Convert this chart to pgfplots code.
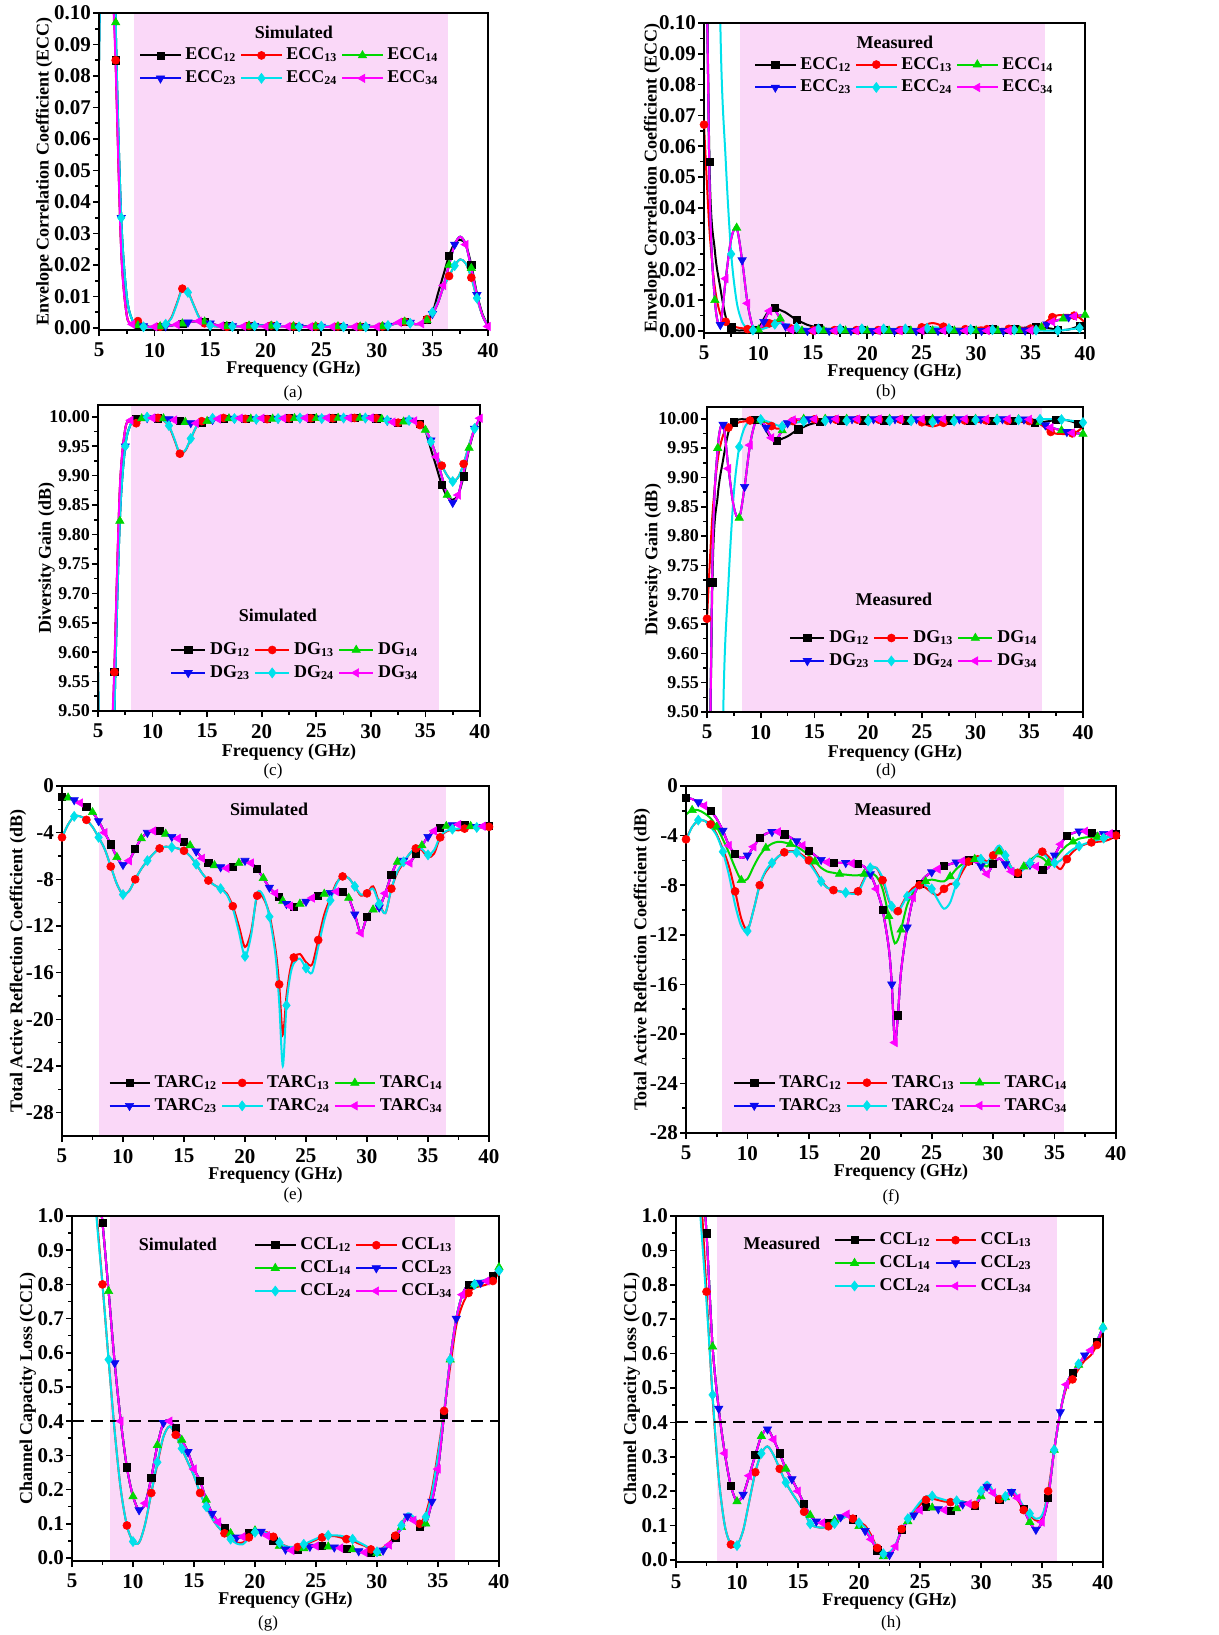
\documentclass[border=0pt]{standalone}
\usepackage{fontspec}
\setmainfont{Liberation Serif}
\usepackage{pgfplots}
\usepackage{pgfplotstable}
\pgfplotsset{compat=1.18}

\definecolor{cgreen}{RGB}{0,215,0}
\definecolor{ccyan}{RGB}{0,225,235}
\definecolor{cblue}{RGB}{10,10,240}
\definecolor{cmag}{RGB}{255,0,255}
\definecolor{bandpink}{RGB}{250,216,248}

% ECC, simulated
\pgfplotstableread{
x a12 a13 a14 a24 a34
5.0 0.30 0.30 0.085 0.085 0.30
5.5 0.30 0.30 0.20 0.20 0.30
6.0 0.15 0.15 0.21 0.21 0.14
6.5 0.085 0.085 0.097 0.097 0.083
7.0 0.025 0.025 0.035 0.035 0.024
7.5 0.004 0.004 0.010 0.010 0.004
8.0 0.0012 0.0016 0.0025 0.0025 0.0012
8.5 0.0008 0.0022 0.0008 0.0010 0.0008
9.0 0.0006 0.0009 0.0006 0.0004 0.0006
9.5 0.0004 0.0003 0.0004 0.0001 0.0004
10.0 0.0004 0.0002 0.0004 0.0001 0.0004
10.5 0.0005 0.0004 0.0005 0.0004 0.0005
11.0 0.0006 0.0012 0.0006 0.0012 0.0006
11.5 0.0008 0.0032 0.0008 0.0030 0.0008
12.0 0.0011 0.0078 0.0011 0.0075 0.0011
12.5 0.0014 0.0125 0.0014 0.0124 0.0014
13.0 0.0018 0.0115 0.0018 0.0113 0.0018
13.5 0.0021 0.0075 0.0021 0.0074 0.0021
14.0 0.0022 0.0035 0.0022 0.0034 0.0022
14.5 0.0020 0.0015 0.0020 0.0015 0.0020
15.0 0.0015 0.0008 0.0015 0.0008 0.0015
15.5 0.0010 0.0005 0.0010 0.0005 0.0010
16.0 0.0007 0.0004 0.0007 0.0004 0.0007
16.5 0.0006 0.0004 0.0006 0.0004 0.0006
17.0 0.0006 0.0005 0.0006 0.0005 0.0005
17.5 0.0006 0.0006 0.0006 0.0006 0.0005
18.0 0.0006 0.0006 0.0007 0.0006 0.0005
18.5 0.0006 0.0007 0.0007 0.0007 0.0005
19.0 0.0006 0.0007 0.0007 0.0007 0.0005
19.5 0.0006 0.0008 0.0008 0.0008 0.0005
20.0 0.0006 0.0008 0.0008 0.0008 0.0005
20.5 0.0006 0.0008 0.0007 0.0008 0.0005
21.0 0.0006 0.0007 0.0007 0.0007 0.0005
21.5 0.0006 0.0006 0.0006 0.0006 0.0005
22.0 0.0005 0.0005 0.0006 0.0005 0.0005
22.5 0.0005 0.0005 0.0005 0.0005 0.0005
23.0 0.0005 0.0004 0.0005 0.0004 0.0004
23.5 0.0005 0.0004 0.0005 0.0004 0.0004
24.0 0.0005 0.0004 0.0005 0.0004 0.0004
24.5 0.0005 0.0005 0.0005 0.0005 0.0004
25.0 0.0005 0.0006 0.0005 0.0006 0.0004
25.5 0.0005 0.0006 0.0005 0.0006 0.0004
26.0 0.0005 0.0006 0.0005 0.0005 0.0004
26.5 0.0005 0.0005 0.0005 0.0005 0.0004
27.0 0.0004 0.0004 0.0004 0.0004 0.0004
27.5 0.0004 0.0004 0.0004 0.0004 0.0004
28.0 0.0004 0.0004 0.0004 0.0004 0.0004
28.5 0.0004 0.0004 0.0004 0.0004 0.0004
29.0 0.0004 0.0004 0.0004 0.0004 0.0004
29.5 0.0004 0.0004 0.0004 0.0004 0.0004
30.0 0.0004 0.0004 0.0004 0.0004 0.0004
30.5 0.0005 0.0005 0.0005 0.0005 0.0005
31.0 0.0008 0.0008 0.0008 0.0008 0.0008
31.5 0.0013 0.0012 0.0013 0.0012 0.0013
32.0 0.0018 0.0018 0.0018 0.0018 0.0018
32.5 0.0020 0.0020 0.0020 0.0020 0.0020
33.0 0.0017 0.0015 0.0017 0.0015 0.0017
33.5 0.0012 0.0012 0.0012 0.0012 0.0012
34.0 0.0014 0.0016 0.0014 0.0016 0.0014
34.5 0.0025 0.0028 0.0025 0.0028 0.0025
35.0 0.0048 0.0050 0.0045 0.0050 0.0045
35.5 0.0110 0.0085 0.0080 0.0085 0.0080
36.0 0.0170 0.0130 0.0135 0.0130 0.0135
36.5 0.0230 0.0165 0.0200 0.0165 0.0200
37.0 0.0270 0.0198 0.0265 0.0198 0.0265
37.5 0.0280 0.0218 0.0290 0.0218 0.0290
38.0 0.0265 0.0205 0.0265 0.0205 0.0265
38.5 0.0200 0.0160 0.0190 0.0160 0.0190
39.0 0.0110 0.0095 0.0105 0.0095 0.0105
39.5 0.0045 0.0040 0.0040 0.0040 0.0040
40.0 0.0008 0.0010 0.0005 0.0010 0.0005
}\tabA

% ECC, measured (bK: ports 14, 23, 34)
\pgfplotstableread{
x b12 b13 bK b24
5.0 0.20 0.067 0.20 0.40
5.5 0.055 0.033 0.050 0.40
6.0 0.026 0.014 0.010 0.25
6.5 0.014 0.0055 0.002 0.10
7.0 0.0045 0.003 0.017 0.055
7.5 0.0012 0.002 0.030 0.025
8.0 0.0002 0.0012 0.0335 0.0095
8.5 0.0002 0.0009 0.023 0.003
9.0 0.0002 0.0006 0.009 0.0008
9.5 0.0003 0.0003 0.0012 0.0003
10.0 0.0008 0.0004 0.0004 0.0003
10.5 0.0040 0.0012 0.0030 0.0008
11.0 0.0068 0.0025 0.0065 0.0014
11.5 0.0075 0.0034 0.0068 0.0022
12.0 0.0068 0.0030 0.0040 0.0026
12.5 0.0060 0.0018 0.0015 0.0022
13.0 0.0048 0.0008 0.0004 0.0016
13.5 0.0036 0.0003 0.0001 0.0012
14.0 0.0028 0.0002 0.0001 0.0009
14.5 0.0020 0.0002 0.0001 0.0007
15.0 0.0015 0.0002 0.0001 0.0007
15.5 0.0011 0.0002 0.0001 0.0007
16.0 0.0008 0.0002 0.0001 0.0007
16.5 0.0007 0.0003 0.0001 0.0007
17.0 0.0006 0.0003 0.0001 0.0007
17.5 0.0005 0.0003 0.0001 0.0007
18.0 0.0005 0.0003 0.0001 0.0007
18.5 0.0005 0.0003 0.0001 0.0007
19.0 0.0005 0.0003 0.0001 0.0007
19.5 0.0005 0.0003 0.0001 0.0007
20.0 0.0005 0.0003 0.0001 0.0007
20.5 0.0005 0.0003 0.0001 0.0007
21.0 0.0005 0.0003 0.0001 0.0007
21.5 0.0005 0.0003 0.0001 0.0007
22.0 0.0005 0.0003 0.0001 0.0007
22.5 0.0005 0.0003 0.0001 0.0007
23.0 0.0005 0.0003 0.0001 0.0007
23.5 0.0005 0.0003 0.0001 0.0007
24.0 0.0005 0.0003 0.0001 0.0007
24.5 0.0005 0.0006 0.0001 0.0007
25.0 0.0005 0.0012 0.0001 0.0008
25.5 0.0005 0.0022 0.0001 0.0009
26.0 0.0005 0.0026 0.0001 0.0012
26.5 0.0005 0.0022 0.0001 0.0011
27.0 0.0005 0.0014 0.0001 0.0009
27.5 0.0005 0.0009 0.0001 0.0008
28.0 0.0005 0.0007 0.0001 0.0008
28.5 0.0005 0.0008 0.0001 0.0007
29.0 0.0005 0.0006 0.0001 0.0006
29.5 0.0005 0.0007 0.0001 0.0005
30.0 0.0005 0.0009 0.0001 0.0004
30.5 0.0005 0.0012 0.0001 0.0004
31.0 0.0005 0.0006 0.0001 0.0004
31.5 0.0006 0.0004 0.0001 0.0004
32.0 0.0006 0.0004 0.0001 0.0004
32.5 0.0007 0.0005 0.0001 0.0004
33.0 0.0007 0.0007 0.0001 0.0004
33.5 0.0008 0.0011 0.0001 0.0004
34.0 0.0009 0.0012 0.0002 0.0004
34.5 0.0011 0.0008 0.0002 0.0004
35.0 0.0013 0.0008 0.0002 0.0004
35.5 0.0014 0.0013 0.0005 0.0003
36.0 0.0013 0.0018 0.0012 0.0002
36.5 0.0010 0.0032 0.0022 0.0001
37.0 0.0007 0.0045 0.0030 0.0001
37.5 0.0004 0.0051 0.0035 0.0002
38.0 0.0003 0.0052 0.0040 0.0003
38.5 0.0005 0.0052 0.0045 0.0005
39.0 0.0010 0.0050 0.0048 0.0007
39.5 0.0017 0.0043 0.0050 0.0010
40.0 0.0020 0.0027 0.0052 0.0013
}\tabB

% DG, simulated
\pgfplotstableread{
x c12 c13 c14 c24 c34
5.0 8.367 8.367 9.566 9.566 8.367
5.5 8.367 8.367 8.944 8.944 8.367
6.0 9.220 9.220 8.888 8.888 9.274
6.5 9.566 9.566 9.487 9.487 9.576
7.0 9.874 9.874 9.823 9.823 9.879
7.5 9.980 9.980 9.950 9.950 9.980
8.0 9.994 9.992 9.9875 9.9875 9.994
8.5 9.996 9.989 9.996 9.995 9.996
9.0 9.997 9.9955 9.997 9.998 9.997
9.5 9.998 9.9985 9.998 9.9995 9.998
10.0 9.998 9.999 9.998 9.9995 9.998
10.5 9.9975 9.998 9.9975 9.998 9.9975
11.0 9.997 9.994 9.997 9.994 9.997
11.5 9.996 9.984 9.996 9.985 9.996
12.0 9.9945 9.961 9.9945 9.9625 9.9945
12.5 9.993 9.9373 9.993 9.9378 9.993
13.0 9.991 9.9424 9.991 9.9434 9.991
13.5 9.9895 9.9624 9.9895 9.963 9.9895
14.0 9.989 9.9825 9.989 9.983 9.989
14.5 9.990 9.9925 9.990 9.9925 9.990
15.0 9.9925 9.996 9.9925 9.996 9.9925
15.5 9.995 9.9975 9.995 9.9975 9.995
16.0 9.9965 9.998 9.9965 9.998 9.9965
16.5 9.997 9.998 9.997 9.998 9.997
17.0 9.997 9.9975 9.997 9.9975 9.9975
17.5 9.997 9.997 9.997 9.997 9.9975
18.0 9.997 9.997 9.9965 9.997 9.9975
18.5 9.997 9.9965 9.9965 9.9965 9.9975
19.0 9.997 9.9965 9.9965 9.9965 9.9975
19.5 9.997 9.996 9.996 9.996 9.9975
20.0 9.997 9.996 9.996 9.996 9.9975
20.5 9.997 9.996 9.9965 9.996 9.9975
21.0 9.997 9.9965 9.9965 9.9965 9.9975
21.5 9.997 9.997 9.997 9.997 9.9975
22.0 9.9975 9.9975 9.997 9.9975 9.9975
22.5 9.9975 9.9975 9.9975 9.9975 9.9975
23.0 9.9975 9.998 9.9975 9.998 9.998
23.5 9.9975 9.998 9.9975 9.998 9.998
24.0 9.9975 9.998 9.9975 9.998 9.998
24.5 9.9975 9.9975 9.9975 9.9975 9.998
25.0 9.9975 9.997 9.9975 9.997 9.998
25.5 9.9975 9.997 9.9975 9.997 9.998
26.0 9.9975 9.997 9.9975 9.9975 9.998
26.5 9.9975 9.9975 9.9975 9.9975 9.998
27.0 9.998 9.998 9.998 9.998 9.998
27.5 9.998 9.998 9.998 9.998 9.998
28.0 9.998 9.998 9.998 9.998 9.998
28.5 9.998 9.998 9.998 9.998 9.998
29.0 9.998 9.998 9.998 9.998 9.998
29.5 9.998 9.998 9.998 9.998 9.998
30.0 9.998 9.998 9.998 9.998 9.998
30.5 9.9975 9.9975 9.9975 9.9975 9.9975
31.0 9.996 9.996 9.996 9.996 9.996
31.5 9.9935 9.994 9.9935 9.994 9.9935
32.0 9.991 9.991 9.991 9.991 9.991
32.5 9.990 9.990 9.990 9.990 9.990
33.0 9.9915 9.9925 9.9915 9.9925 9.9915
33.5 9.994 9.994 9.994 9.994 9.994
34.0 9.993 9.992 9.993 9.992 9.993
34.5 9.9875 9.986 9.9875 9.986 9.9875
35.0 9.976 9.975 9.9775 9.975 9.9775
35.5 9.945 9.9575 9.960 9.9575 9.960
36.0 9.915 9.935 9.932 9.935 9.932
36.5 9.884 9.917 9.899 9.917 9.899
37.0 9.864 9.900 9.867 9.900 9.867
37.5 9.859 9.890 9.854 9.890 9.854
38.0 9.867 9.897 9.867 9.897 9.867
38.5 9.899 9.920 9.905 9.920 9.905
39.0 9.945 9.952 9.947 9.952 9.947
39.5 9.9775 9.980 9.980 9.980 9.980
40.0 9.996 9.995 9.9975 9.995 9.9975
}\tabC

% DG, measured (dK: ports 14, 23, 34)
\pgfplotstableread{
x d12 d13 dK d24
5.0 8.944 9.659 8.944 7.746
5.5 9.721 9.834 9.747 7.746
6.0 9.869 9.930 9.950 8.660
6.5 9.930 9.972 9.990 9.487
7.0 9.9775 9.985 9.915 9.721
7.5 9.994 9.990 9.849 9.874
8.0 9.999 9.994 9.831 9.952
8.5 9.999 9.9955 9.884 9.985
9.0 9.999 9.997 9.955 9.996
9.5 9.9985 9.9985 9.994 9.9985
10.0 9.996 9.998 9.998 9.9985
10.5 9.980 9.994 9.985 9.996
11.0 9.966 9.9875 9.9675 9.993
11.5 9.9625 9.983 9.966 9.989
12.0 9.966 9.985 9.980 9.987
12.5 9.970 9.991 9.9925 9.989
13.0 9.976 9.996 9.998 9.992
13.5 9.982 9.9985 9.9995 9.994
14.0 9.986 9.999 9.9995 9.9955
14.5 9.990 9.999 9.9995 9.9965
15.0 9.9925 9.999 9.9995 9.9965
15.5 9.9945 9.999 9.9995 9.9965
16.0 9.996 9.999 9.9995 9.9965
16.5 9.9965 9.9985 9.9995 9.9965
17.0 9.997 9.9985 9.9995 9.9965
17.5 9.9975 9.9985 9.9995 9.9965
18.0 9.9975 9.9985 9.9995 9.9965
18.5 9.9975 9.9985 9.9995 9.9965
19.0 9.9975 9.9985 9.9995 9.9965
19.5 9.9975 9.9985 9.9995 9.9965
20.0 9.9975 9.9985 9.9995 9.9965
20.5 9.9975 9.9985 9.9995 9.9965
21.0 9.9975 9.9985 9.9995 9.9965
21.5 9.9975 9.9985 9.9995 9.9965
22.0 9.9975 9.9985 9.9995 9.9965
22.5 9.9975 9.9985 9.9995 9.9965
23.0 9.9975 9.9985 9.9995 9.9965
23.5 9.9975 9.9985 9.9995 9.9965
24.0 9.9975 9.9985 9.9995 9.9965
24.5 9.9975 9.997 9.9995 9.9965
25.0 9.9975 9.994 9.9995 9.996
25.5 9.9975 9.989 9.9995 9.9955
26.0 9.9975 9.987 9.9995 9.994
26.5 9.9975 9.989 9.9995 9.9945
27.0 9.9975 9.993 9.9995 9.9955
27.5 9.9975 9.9955 9.9995 9.996
28.0 9.9975 9.9965 9.9995 9.996
28.5 9.9975 9.996 9.9995 9.9965
29.0 9.9975 9.997 9.9995 9.997
29.5 9.9975 9.9965 9.9995 9.9975
30.0 9.9975 9.9955 9.9995 9.998
30.5 9.9975 9.994 9.9995 9.998
31.0 9.9975 9.997 9.9995 9.998
31.5 9.997 9.998 9.9995 9.998
32.0 9.997 9.998 9.9995 9.998
32.5 9.9965 9.9975 9.9995 9.998
33.0 9.9965 9.9965 9.9995 9.998
33.5 9.996 9.9945 9.9995 9.998
34.0 9.9955 9.994 9.999 9.998
34.5 9.9945 9.996 9.999 9.998
35.0 9.9935 9.996 9.999 9.998
35.5 9.993 9.9935 9.9975 9.9985
36.0 9.9935 9.991 9.994 9.999
36.5 9.995 9.984 9.989 9.9995
37.0 9.9965 9.9775 9.985 9.9995
37.5 9.998 9.9745 9.9825 9.999
38.0 9.9985 9.974 9.980 9.9985
38.5 9.9975 9.974 9.9775 9.9975
39.0 9.995 9.975 9.976 9.9965
39.5 9.9915 9.9785 9.975 9.995
40.0 9.990 9.9865 9.974 9.9935
}\tabD

% TARC, simulated (eA: ports 12, 14, 23, 34)
\pgfplotstableread{
x eA eR eC
5.0 -0.95 -4.4 -4.4
5.5 -1.0 -3.3 -3.3
6.0 -1.2 -2.6 -2.6
6.5 -1.45 -2.6 -2.6
7.0 -1.75 -2.9 -2.9
7.5 -2.25 -3.5 -3.5
8.0 -3.0 -4.4 -4.4
8.5 -4.0 -5.4 -5.4
9.0 -5.0 -6.9 -6.9
9.5 -6.1 -8.4 -8.4
10.0 -6.75 -9.3 -9.3
10.5 -6.4 -9.0 -9.0
11.0 -5.4 -8.0 -8.0
11.5 -4.5 -7.1 -7.1
12.0 -4.0 -6.4 -6.4
12.5 -3.85 -5.8 -5.8
13.0 -3.85 -5.35 -5.35
13.5 -4.1 -5.2 -5.2
14.0 -4.35 -5.25 -5.25
14.5 -4.5 -5.35 -5.35
15.0 -4.75 -5.55 -5.55
15.5 -5.1 -6.0 -6.0
16.0 -5.6 -6.7 -6.7
16.5 -6.2 -7.5 -7.5
17.0 -6.6 -8.1 -8.1
17.5 -6.8 -8.5 -8.5
18.0 -6.95 -8.8 -8.8
18.5 -7.05 -9.2 -9.3
19.0 -6.9 -10.3 -10.5
19.5 -6.6 -12.0 -12.5
20.0 -6.4 -13.8 -14.6
20.5 -6.6 -12.5 -12.8
21.0 -7.1 -9.4 -9.2
21.5 -7.9 -9.6 -9.4
22.0 -8.7 -11.0 -11.2
22.5 -9.2 -14.0 -14.5
22.8 -9.5 -17.0 -18.5
23.1 -9.85 -21.3 -24.0
23.4 -10.1 -18.0 -18.8
23.7 -10.3 -15.8 -16.3
24.0 -10.35 -14.7 -15.2
24.5 -10.1 -14.4 -14.8
25.0 -9.9 -15.1 -15.6
25.5 -9.6 -15.3 -16.0
26.0 -9.4 -13.2 -13.8
26.5 -9.25 -11.0 -11.5
27.0 -9.15 -9.6 -9.8
27.5 -9.05 -8.3 -8.4
28.0 -9.1 -7.75 -7.7
28.5 -9.6 -7.9 -7.9
29.0 -11.0 -8.6 -8.6
29.5 -12.6 -9.4 -9.3
30.0 -11.2 -9.2 -9.2
30.5 -10.6 -8.6 -8.8
31.0 -10.4 -10.0 -10.1
31.5 -9.2 -10.9 -10.9
32.0 -7.6 -8.8 -8.8
32.5 -6.5 -7.4 -7.3
33.0 -6.4 -6.6 -6.5
33.5 -6.6 -5.8 -5.8
34.0 -5.8 -5.35 -5.3
34.5 -5.1 -5.5 -5.4
35.0 -4.35 -6.1 -5.9
35.5 -3.85 -5.8 -5.5
36.0 -3.55 -4.4 -4.3
36.5 -3.45 -3.9 -3.85
37.0 -3.35 -3.75 -3.7
37.5 -3.3 -3.8 -3.65
38.0 -3.35 -3.65 -3.6
38.5 -3.45 -3.6 -3.55
39.0 -3.5 -3.6 -3.55
39.5 -3.45 -3.55 -3.5
40.0 -3.4 -3.5 -3.5
}\tabE

% TARC, measured (fK: ports 12, 23, 34)
\pgfplotstableread{
x fK fR fC fG
5.0 -0.95 -4.3 -4.4 -2.3
5.5 -1.05 -3.3 -3.3 -1.95
6.0 -1.3 -2.8 -2.75 -1.95
6.5 -1.6 -2.8 -2.8 -2.2
7.0 -2.0 -3.1 -3.3 -2.6
7.5 -2.65 -3.9 -4.0 -3.3
8.0 -3.6 -5.1 -5.3 -4.3
8.5 -4.8 -6.5 -7.2 -5.4
9.0 -5.5 -8.5 -9.6 -6.6
9.5 -5.8 -10.7 -11.3 -7.6
10.0 -5.6 -11.6 -11.7 -7.5
10.5 -4.9 -10.0 -10.0 -6.5
11.0 -4.2 -8.0 -8.0 -5.6
11.5 -3.85 -6.9 -6.8 -5.0
12.0 -3.7 -6.3 -6.2 -4.65
12.5 -3.7 -5.7 -5.7 -4.5
13.0 -3.9 -5.35 -5.4 -4.55
13.5 -4.15 -5.25 -5.3 -4.7
14.0 -4.45 -5.3 -5.35 -4.9
14.5 -4.8 -5.6 -5.7 -5.2
15.0 -5.2 -6.0 -6.2 -5.6
15.5 -5.6 -6.8 -6.9 -6.1
16.0 -5.95 -7.6 -7.7 -6.6
16.5 -6.15 -8.2 -8.2 -6.9
17.0 -6.2 -8.4 -8.4 -7.0
17.5 -6.2 -8.5 -8.5 -7.1
18.0 -6.2 -8.6 -8.6 -7.15
18.5 -6.25 -8.65 -8.7 -7.2
19.0 -6.3 -8.5 -8.6 -7.2
19.5 -6.5 -7.5 -7.6 -7.1
20.0 -7.1 -6.7 -6.6 -7.0
20.5 -8.3 -6.6 -6.6 -7.3
21.0 -10.0 -7.6 -7.4 -8.3
21.5 -13.0 -9.2 -9.1 -10.5
21.75 -16.0 -9.8 -9.7 -11.8
22.0 -20.7 -10.2 -10.2 -12.7
22.25 -18.5 -10.1 -10.1 -12.4
22.5 -15.0 -9.7 -9.8 -11.6
23.0 -11.4 -8.8 -8.9 -9.6
23.5 -9.0 -8.2 -8.4 -8.6
24.0 -7.9 -8.0 -8.1 -8.1
24.5 -7.3 -8.2 -8.0 -7.7
25.0 -6.95 -8.6 -8.3 -7.55
25.5 -6.7 -8.8 -9.2 -7.65
26.0 -6.45 -8.3 -9.9 -7.7
26.5 -6.3 -7.9 -9.4 -7.3
27.0 -6.15 -7.8 -7.9 -6.7
27.5 -6.05 -6.9 -6.6 -6.3
28.0 -6.0 -6.1 -6.0 -6.0
28.5 -6.1 -5.7 -5.8 -5.9
29.0 -6.45 -5.7 -5.9 -6.1
29.5 -7.1 -6.1 -6.2 -6.5
30.0 -6.3 -5.6 -5.4 -5.8
30.5 -5.85 -4.85 -4.8 -5.3
31.0 -6.3 -5.6 -5.6 -5.9
31.5 -6.9 -6.6 -6.6 -6.6
32.0 -7.1 -7.0 -7.0 -6.85
32.5 -6.5 -6.6 -6.7 -6.5
33.0 -6.35 -6.2 -6.2 -6.0
33.5 -6.5 -5.6 -5.6 -5.65
34.0 -6.75 -5.3 -5.4 -5.8
34.5 -6.6 -5.7 -5.9 -6.2
35.0 -5.6 -6.3 -6.2 -5.9
35.5 -4.7 -6.7 -6.0 -5.3
36.0 -4.0 -5.9 -5.5 -4.8
36.5 -3.8 -5.3 -5.1 -4.5
37.0 -3.65 -4.9 -4.85 -4.25
37.5 -3.65 -4.7 -4.65 -4.15
38.0 -3.75 -4.55 -4.5 -4.1
38.5 -3.85 -4.5 -4.35 -4.1
39.0 -3.85 -4.45 -4.2 -4.1
39.5 -3.85 -4.3 -4.1 -4.05
40.0 -3.9 -4.0 -4.05 -4.0
}\tabF

% CCL, simulated (gA: ports 12, 14, 23, 34)
\pgfplotstableread{
x gA gR gC
5.0 2.5 2.5 2.5
5.5 2.2 2.0 2.0
6.0 1.8 1.6 1.6
6.5 1.45 1.3 1.25
7.0 1.15 1.02 1.0
7.5 0.98 0.8 0.8
8.0 0.78 0.58 0.58
8.5 0.57 0.37 0.37
9.0 0.40 0.20 0.20
9.5 0.265 0.095 0.095
10.0 0.18 0.048 0.048
10.5 0.14 0.045 0.045
11.0 0.16 0.10 0.10
11.5 0.235 0.19 0.19
12.0 0.33 0.275 0.28
12.5 0.395 0.355 0.355
13.0 0.40 0.385 0.385
13.5 0.38 0.36 0.36
14.0 0.345 0.32 0.32
14.5 0.31 0.28 0.28
15.0 0.26 0.24 0.24
15.5 0.225 0.19 0.19
16.0 0.17 0.15 0.15
16.5 0.13 0.115 0.115
17.0 0.105 0.09 0.09
17.5 0.088 0.072 0.072
18.0 0.072 0.055 0.055
18.5 0.06 0.045 0.042
19.0 0.062 0.045 0.04
19.5 0.074 0.06 0.058
20.0 0.08 0.075 0.075
20.5 0.077 0.078 0.077
21.0 0.065 0.075 0.073
21.5 0.05 0.062 0.06
22.0 0.035 0.045 0.045
22.5 0.025 0.035 0.034
23.0 0.022 0.03 0.032
23.5 0.024 0.032 0.035
24.0 0.028 0.038 0.04
24.5 0.033 0.045 0.048
25.0 0.035 0.053 0.056
25.5 0.035 0.06 0.063
26.0 0.033 0.063 0.066
26.5 0.031 0.064 0.066
27.0 0.029 0.06 0.065
27.5 0.027 0.055 0.06
28.0 0.025 0.05 0.055
28.5 0.02 0.042 0.046
29.0 0.016 0.035 0.037
29.5 0.014 0.025 0.026
30.0 0.014 0.018 0.018
30.5 0.022 0.03 0.028
31.0 0.038 0.045 0.042
31.5 0.058 0.065 0.06
32.0 0.09 0.10 0.095
32.5 0.122 0.125 0.13
33.0 0.11 0.115 0.12
33.5 0.09 0.10 0.10
34.0 0.10 0.13 0.12
34.5 0.165 0.20 0.19
35.0 0.26 0.31 0.30
35.5 0.42 0.43 0.43
36.0 0.58 0.56 0.58
36.5 0.70 0.68 0.70
37.0 0.77 0.74 0.77
37.5 0.80 0.775 0.795
38.0 0.80 0.79 0.80
38.5 0.805 0.795 0.81
39.0 0.81 0.80 0.815
39.5 0.825 0.81 0.825
40.0 0.85 0.835 0.84
}\tabG

% CCL, measured (hA: ports 12, 14, 23, 34)
\pgfplotstableread{
x hA hR hC
5.0 2.5 2.5 2.5
5.5 2.2 2.1 2.0
6.0 1.8 1.75 1.6
6.5 1.45 1.4 1.25
7.0 1.2 1.1 1.0
7.5 0.95 0.78 0.75
8.0 0.62 0.47 0.48
8.5 0.44 0.24 0.24
9.0 0.31 0.10 0.10
9.5 0.215 0.045 0.045
10.0 0.17 0.042 0.042
10.5 0.19 0.085 0.085
11.0 0.245 0.17 0.17
11.5 0.305 0.255 0.255
12.0 0.36 0.31 0.31
12.5 0.38 0.33 0.33
13.0 0.35 0.305 0.305
13.5 0.31 0.265 0.265
14.0 0.265 0.225 0.225
14.5 0.235 0.195 0.195
15.0 0.20 0.168 0.168
15.5 0.163 0.14 0.14
16.0 0.13 0.105 0.105
16.5 0.112 0.096 0.096
17.0 0.108 0.094 0.094
17.5 0.108 0.098 0.098
18.0 0.115 0.106 0.106
18.5 0.125 0.117 0.117
19.0 0.133 0.127 0.127
19.5 0.118 0.12 0.12
20.0 0.098 0.11 0.108
20.5 0.085 0.10 0.095
21.0 0.06 0.072 0.065
21.5 0.028 0.035 0.035
22.0 0.01 0.018 0.018
22.5 0.015 0.022 0.022
23.0 0.04 0.042 0.045
23.5 0.088 0.09 0.09
24.0 0.112 0.118 0.12
24.5 0.13 0.14 0.145
25.0 0.145 0.16 0.168
25.5 0.155 0.175 0.185
26.0 0.152 0.178 0.186
26.5 0.148 0.174 0.18
27.0 0.145 0.17 0.175
27.5 0.142 0.168 0.17
28.0 0.15 0.17 0.172
28.5 0.162 0.17 0.17
29.0 0.163 0.165 0.162
29.5 0.157 0.16 0.158
30.0 0.185 0.19 0.20
30.5 0.213 0.22 0.227
31.0 0.195 0.198 0.20
31.5 0.175 0.177 0.178
32.0 0.182 0.178 0.185
32.5 0.198 0.195 0.205
33.0 0.18 0.175 0.185
33.5 0.148 0.145 0.155
34.0 0.11 0.13 0.135
34.5 0.088 0.115 0.12
35.0 0.11 0.12 0.13
35.5 0.18 0.20 0.19
36.0 0.32 0.32 0.32
36.5 0.43 0.43 0.43
37.0 0.51 0.50 0.51
37.5 0.545 0.525 0.545
38.0 0.567 0.555 0.57
38.5 0.595 0.58 0.595
39.0 0.61 0.595 0.615
39.5 0.635 0.625 0.64
40.0 0.678 0.665 0.675
}\tabH

\pgfplotsset{
  panel/.style={
    scale only axis, anchor=south west, axis on top,
    xmin=5, xmax=40, xtick={5,10,15,20,25,30,35,40},
    minor x tick num=1, minor y tick num=1,
    tick align=outside, tick pos=left,
    axis line style={line width=1pt},
    tick style={black, line width=0.8pt},
    major tick length=3pt, minor tick length=1.8pt,
    /pgf/number format/assume math mode=true,
    ticklabel style={font=\bfseries\fontsize{10.5}{12}\selectfont},
    yticklabel style={xshift=2.5pt},
    label style={font=\bfseries\fontsize{9}{10}\selectfont},
    xlabel={Frequency (GHz)},
    xlabel style={yshift=5pt},
    ylabel style={yshift=-6pt},
    legend cell align=left,
    legend style={draw=none, fill=none, anchor=west, inner sep=0pt,
      font=\bfseries\fontsize{9}{10}\selectfont, row sep=0pt},
    every axis plot/.append style={line width=1pt, smooth, mark repeat=4},
  },
  legA/.style={legend image code/.code={
    \draw[mark repeat=2, mark phase=2] plot coordinates {(0pt,0pt) (10pt,0pt) (20pt,0pt)};}},
  legB/.style={legend image code/.code={
    \draw[mark repeat=2, mark phase=2] plot coordinates {(0pt,0pt) (8.5pt,0pt) (17pt,0pt)};}},
  s12/.style={black, mark=square*, mark size=1.8pt, mark options={line width=0.3pt}, mark phase=1},
  s13/.style={red, mark=*, mark size=2.0pt, mark options={line width=0.3pt}, mark phase=1},
  s14/.style={cgreen, mark=triangle*, mark size=2.4pt, mark options={line width=0.3pt}, mark phase=2},
  s23/.style={cblue, mark=triangle*, mark size=2.4pt, mark options={rotate=180, line width=0.3pt}, mark phase=3},
  s24/.style={ccyan, mark=diamond*, mark size=2.5pt, mark options={line width=0.3pt}, mark phase=3},
  s34/.style={cmag, mark=triangle*, mark size=2.4pt, mark options={rotate=90, line width=0.3pt}, mark phase=4},
  eccy/.style={ytick={0,0.01,0.02,0.03,0.04,0.05,0.06,0.07,0.08,0.09,0.1},
    yticklabel style={/pgf/number format/.cd, fixed, fixed zerofill, precision=2}},
  dgy/.style={ymin=9.5, ymax=10.02,
    ytick={9.5,9.55,9.6,9.65,9.7,9.75,9.8,9.85,9.9,9.95,10},
    yticklabel style={font=\bfseries\fontsize{9}{10}\selectfont,
      /pgf/number format/.cd, fixed, fixed zerofill, precision=2}},
  tarcy/.style={ytick={-28,-24,-20,-16,-12,-8,-4,0}},
  ccly/.style={ymax=1, ytick={0,0.1,0.2,0.3,0.4,0.5,0.6,0.7,0.8,0.9,1},
    yticklabel style={/pgf/number format/.cd, fixed, fixed zerofill, precision=1}},
}

% pink band: x from #1 to #2, y from #3 to #4 (a little beyond the axis limits)
\newcommand\band[4]{\fill[bandpink] (axis cs:#1,#3) rectangle (axis cs:#2,#4);}
\newcommand\plotsix[7]{%
  \addplot[s12] table[x=x,y=#2]{#1};
  \addplot[s13] table[x=x,y=#3]{#1};
  \addplot[s14] table[x=x,y=#4]{#1};
  \addplot[s23] table[x=x,y=#5]{#1};
  \addplot[s24] table[x=x,y=#6]{#1};
  \addplot[s34] table[x=x,y=#7]{#1};
}
\newcommand\legsix[1]{\legend{#1\textsubscript{12},#1\textsubscript{13},#1\textsubscript{14},#1\textsubscript{23},#1\textsubscript{24},#1\textsubscript{34}}}
\newcommand\tag[3]{\node[font=\bfseries\fontsize{9}{10}\selectfont] at (rel axis cs:#1,#2) {#3};}
\newcommand\capt[3]{\node[font=\fontsize{8.5}{10}\selectfont] at (#1pt,#2pt) {#3};}

\begin{document}
\begin{tikzpicture}
\useasboundingbox (0pt,0pt) rectangle (609.5pt,-817.5pt);

% (a)
\begin{axis}[panel, eccy, legA, at={(49.5pt,-165pt)}, width=194.5pt, height=158.5pt,
  ymin=-0.00063, ymax=0.1, ylabel={Envelope Correlation Coefficient (ECC)},
  legend columns=3, legend style={at={(0.103,0.830)}}]
\band{8.15}{36.4}{-0.01}{0.11}
\plotsix{\tabA}{a12}{a13}{a14}{a14}{a24}{a34}
\legsix{ECC}
\tag{0.501}{0.94}{Simulated}
\end{axis}

% (b)
\begin{axis}[panel, eccy, legA, at={(352pt,-166.5pt)}, width=190.5pt, height=155pt,
  ymin=-0.00065, ymax=0.1, ylabel={Envelope Correlation Coefficient (ECC)},
  ylabel style={yshift=-1.5pt},
  legend columns=3, legend style={at={(0.131,0.829)}}]
\band{8.3}{36.3}{-0.01}{0.11}
\plotsix{\tabB}{b12}{b13}{bK}{bK}{b24}{bK}
\legsix{ECC}
\tag{0.501}{0.939}{Measured}
\end{axis}

% (c)
\begin{axis}[panel, dgy, legB, at={(49pt,-355.5pt)}, width=191pt, height=153pt,
  ylabel={Diversity Gain (dB)}, ylabel style={yshift=-3.5pt},
  xlabel style={yshift=-0.8pt},
  legend columns=3, legend style={at={(0.188,0.162)}}]
\band{8.0}{36.2}{9.4}{10.1}
\plotsix{\tabC}{c12}{c13}{c14}{c14}{c24}{c34}
\legsix{DG}
\tag{0.471}{0.314}{Simulated}
\end{axis}

% (d)
\begin{axis}[panel, dgy, legB, at={(353.5pt,-356pt)}, width=188pt, height=152.5pt,
  ylabel={Diversity Gain (dB)}, ylabel style={yshift=-2.3pt},
  xlabel style={yshift=-1.2pt},
  legend columns=3, legend style={at={(0.218,0.205)}}]
\band{8.26}{36.2}{9.4}{10.1}
\plotsix{\tabD}{d12}{d13}{dK}{dK}{d24}{dK}
\legsix{DG}
\tag{0.497}{0.370}{Measured}
\end{axis}

% (e)
\begin{axis}[panel, tarcy, legA, at={(31pt,-568pt)}, width=213.5pt, height=175pt,
  ymin=-30, ymax=0, ylabel={Total Active Reflection Coefficient (dB)},
  ylabel style={yshift=-1pt},
  legend columns=3, legend style={at={(0.108,0.119)}}]
\band{8.03}{36.5}{-31}{1}
\plotsix{\tabE}{eA}{eR}{eA}{eA}{eC}{eA}
\legsix{TARC}
\tag{0.485}{0.934}{Simulated}
\end{axis}

% (f)
\begin{axis}[panel, tarcy, legA, at={(343pt,-566.5pt)}, width=215pt, height=173.5pt,
  ymin=-28, ymax=0, ylabel={Total Active Reflection Coefficient (dB)},
  ylabel style={yshift=-1pt},
  legend columns=3, legend style={at={(0.109,0.112)}}]
\band{7.93}{35.8}{-29}{1}
\plotsix{\tabF}{fK}{fR}{fG}{fK}{fC}{fK}
\legsix{TARC}
\tag{0.481}{0.934}{Measured}
\end{axis}

% (g)
\begin{axis}[panel, ccly, legA, at={(36pt,-780.5pt)}, width=213.5pt, height=172.5pt,
  ymin=-0.009, ylabel={Channel Capacity Loss (CCL)},
  legend columns=2, legend style={at={(0.426,0.849)}}]
\band{8.1}{36.4}{-0.1}{1.1}
\plotsix{\tabG}{gA}{gR}{gA}{gA}{gC}{gA}
\addplot[black, line width=1pt, dash pattern=on 6pt off 3.5pt, no markers, forget plot] coordinates {(5,0.4) (40,0.4)};
\legsix{CCL}
\tag{0.248}{0.919}{Simulated}
\end{axis}

% (h)
\begin{axis}[panel, ccly, legA, at={(338pt,-781pt)}, width=213.5pt, height=173pt,
  ymin=-0.006, ylabel={Channel Capacity Loss (CCL)},
  legend columns=2, legend style={at={(0.368,0.864)}}]
\band{8.36}{36.2}{-0.1}{1.1}
\plotsix{\tabH}{hA}{hR}{hA}{hA}{hC}{hA}
\addplot[black, line width=1pt, dash pattern=on 6pt off 3.5pt, no markers, forget plot] coordinates {(5,0.4) (40,0.4)};
\legsix{CCL}
\tag{0.248}{0.922}{Measured}
\end{axis}

\capt{146.5}{-196.5}{(a)}
\capt{443}{-196}{(b)}
\capt{136.5}{-385.5}{(c)}
\capt{443}{-385.5}{(d)}
\capt{146.5}{-597.5}{(e)}
\capt{445.5}{-598.5}{(f)}
\capt{134}{-811.5}{(g)}
\capt{445.5}{-811.5}{(h)}
\end{tikzpicture}
\end{document}
